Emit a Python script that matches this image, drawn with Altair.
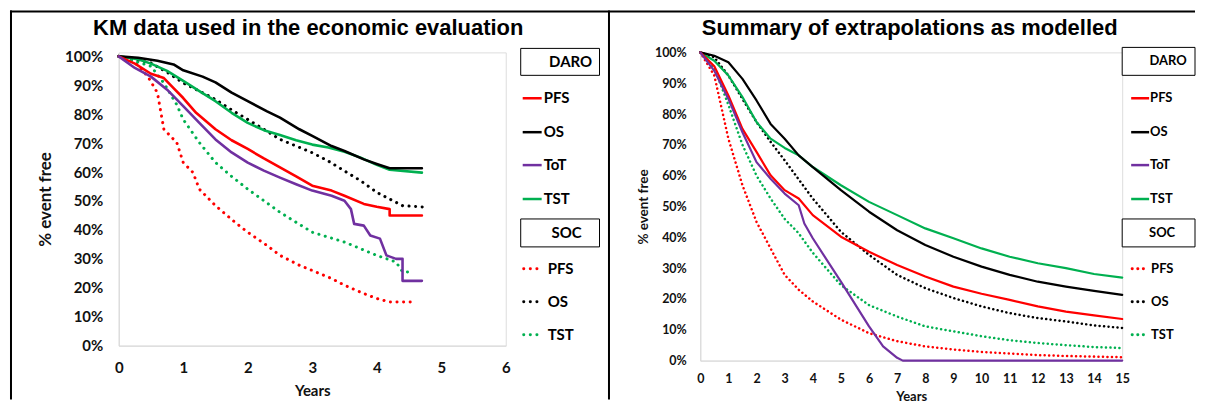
import altair as alt
import pandas as pd

# ---------------- Left panel: Kaplan-Meier data (years, fraction event free) ----------------
KM_DARO_PFS_T = [0, 0.25, 0.5, 0.7, 0.85, 1.0, 1.2, 1.5, 1.75, 2.0, 2.25, 2.5, 2.75, 3.0, 3.3, 3.5, 3.8, 4.0, 4.2, 4.2, 4.7]
KM_DARO_PFS_S = [1.0, 0.975, 0.94, 0.925, 0.89, 0.856, 0.805, 0.748, 0.71, 0.68, 0.647, 0.616, 0.585, 0.553, 0.536, 0.518, 0.49, 0.48, 0.472, 0.45, 0.45]

KM_DARO_OS_T = [0, 0.3, 0.6, 0.85, 1.0, 1.3, 1.5, 1.75, 2.0, 2.3, 2.5, 2.8, 3.0, 3.3, 3.5, 3.8, 4.0, 4.2, 4.7]
KM_DARO_OS_S = [1.0, 0.995, 0.985, 0.972, 0.952, 0.93, 0.91, 0.875, 0.845, 0.81, 0.788, 0.748, 0.725, 0.69, 0.673, 0.644, 0.628, 0.613, 0.613]

KM_DARO_TOT_T = [0, 0.25, 0.5, 0.75, 1.0, 1.25, 1.5, 1.75, 2.0, 2.25, 2.5, 2.75, 3.0, 3.3, 3.5, 3.6, 3.65, 3.8, 3.9, 4.05, 4.15, 4.3, 4.4, 4.4, 4.7]
KM_DARO_TOT_S = [1.0, 0.96, 0.93, 0.885, 0.828, 0.77, 0.713, 0.668, 0.633, 0.605, 0.581, 0.558, 0.536, 0.518, 0.501, 0.472, 0.421, 0.415, 0.381, 0.37, 0.312, 0.3, 0.3, 0.224, 0.224]

KM_DARO_TST_T = [0, 0.3, 0.5, 0.75, 1.0, 1.25, 1.5, 1.75, 2.0, 2.25, 2.5, 2.75, 3.0, 3.25, 3.5, 3.75, 4.0, 4.2, 4.7]
KM_DARO_TST_S = [1.0, 0.99, 0.975, 0.95, 0.915, 0.88, 0.845, 0.805, 0.77, 0.745, 0.728, 0.71, 0.695, 0.685, 0.67, 0.65, 0.625, 0.608, 0.598]

KM_SOC_PFS_T = [0, 0.25, 0.45, 0.6, 0.7, 0.9, 1.0, 1.15, 1.25, 1.5, 1.8, 2.0, 2.3, 2.5, 2.8, 3.0, 3.3, 3.5, 3.8, 4.0, 4.2, 4.55]
KM_SOC_PFS_S = [1.0, 0.98, 0.931, 0.874, 0.748, 0.702, 0.633, 0.599, 0.541, 0.484, 0.427, 0.392, 0.346, 0.312, 0.278, 0.26, 0.232, 0.209, 0.18, 0.163, 0.151, 0.151]

KM_SOC_OS_T = [0, 0.5, 0.75, 1.0, 1.25, 1.5, 1.75, 2.0, 2.25, 2.5, 2.75, 3.0, 3.25, 3.5, 3.75, 4.0, 4.2, 4.4, 4.8]
KM_SOC_OS_S = [1.0, 0.977, 0.945, 0.908, 0.88, 0.851, 0.815, 0.782, 0.748, 0.713, 0.69, 0.667, 0.638, 0.604, 0.57, 0.53, 0.507, 0.484, 0.478]

KM_SOC_TST_T = [0, 0.5, 0.7, 0.9, 1.0, 1.25, 1.5, 1.75, 2.0, 2.5, 3.0, 3.5, 4.0, 4.3, 4.4, 4.55]
KM_SOC_TST_S = [1.0, 0.966, 0.908, 0.833, 0.782, 0.702, 0.633, 0.585, 0.541, 0.461, 0.392, 0.358, 0.312, 0.289, 0.255, 0.255]

# ---------------- Right panel: modelled extrapolations ----------------
EX_T = [0, 0.5, 1, 1.5, 2, 2.5, 3, 3.5, 4, 5, 6, 7, 8, 9, 10, 11, 12, 13, 14, 15]
EX_DARO_PFS = [1.0, 0.955, 0.86, 0.752, 0.677, 0.601, 0.553, 0.526, 0.472, 0.402, 0.353, 0.31, 0.273, 0.24, 0.217, 0.197, 0.176, 0.159, 0.147, 0.135]
EX_DARO_OS = [1.0, 0.989, 0.968, 0.914, 0.844, 0.768, 0.72, 0.666, 0.628, 0.553, 0.483, 0.423, 0.375, 0.337, 0.305, 0.278, 0.256, 0.24, 0.226, 0.213]
EX_DARO_TST = [1.0, 0.973, 0.925, 0.855, 0.774, 0.72, 0.69, 0.666, 0.628, 0.569, 0.515, 0.472, 0.429, 0.397, 0.364, 0.337, 0.316, 0.3, 0.281, 0.269]
EX_SOC_PFS = [1.0, 0.925, 0.72, 0.569, 0.45, 0.364, 0.278, 0.23, 0.192, 0.133, 0.089, 0.063, 0.046, 0.036, 0.028, 0.023, 0.018, 0.015, 0.013, 0.011]
EX_SOC_OS = [1.0, 0.984, 0.925, 0.849, 0.774, 0.71, 0.65, 0.588, 0.526, 0.418, 0.343, 0.278, 0.235, 0.203, 0.176, 0.154, 0.138, 0.127, 0.114, 0.106]
EX_SOC_TST = [1.0, 0.95, 0.83, 0.70, 0.60, 0.526, 0.46, 0.413, 0.35, 0.245, 0.18, 0.143, 0.111, 0.095, 0.079, 0.066, 0.057, 0.05, 0.044, 0.041]
EX_DARO_TOT_T = [0, 0.25, 0.5, 1, 1.5, 2, 2.5, 3, 3.5, 3.7, 4, 5, 6, 6.5, 7, 7.2, 15]
EX_DARO_TOT = [1.0, 0.97, 0.94, 0.849, 0.741, 0.644, 0.59, 0.542, 0.504, 0.445, 0.397, 0.256, 0.111, 0.046, 0.009, 0.0, 0.0]

SERIES = ["DARO PFS", "DARO OS", "DARO ToT", "DARO TST", "SOC PFS", "SOC OS", "SOC TST"]
SERIES_COLORS = ["#FF0000", "#000000", "#7030A0", "#00B050", "#FF0000", "#000000", "#00B050"]
DARO_ITEMS = ["PFS", "OS", "ToT", "TST"]
SOC_ITEMS = ["PFS", "OS", "TST"]
Y_TICKS = [0, 0.1, 0.2, 0.3, 0.4, 0.5, 0.6, 0.7, 0.8, 0.9, 1.0]
KM_X_TICKS = [0, 1, 2, 3, 4, 5, 6]
EX_X_TICKS = list(range(16))

LEFT_TITLE = "KM data used in the economic evaluation"
RIGHT_TITLE = "Summary of extrapolations as modelled"

TITLE_FONT = "Liberation Sans, Arial, sans-serif"
LBL_FONT = "Lato"
COLOR_OF = dict(zip(SERIES, SERIES_COLORS))


def frame(parts):
    rows = []
    for name, ts, ss in parts:
        for i, (t, s) in enumerate(zip(ts, ss)):
            rows.append({"series": name, "arm": name.split()[0], "t": t, "s": s, "i": i})
    return pd.DataFrame(rows)


km_df = frame([
    ("SOC PFS", KM_SOC_PFS_T, KM_SOC_PFS_S),
    ("SOC OS", KM_SOC_OS_T, KM_SOC_OS_S),
    ("SOC TST", KM_SOC_TST_T, KM_SOC_TST_S),
    ("DARO TST", KM_DARO_TST_T, KM_DARO_TST_S),
    ("DARO OS", KM_DARO_OS_T, KM_DARO_OS_S),
    ("DARO PFS", KM_DARO_PFS_T, KM_DARO_PFS_S),
    ("DARO ToT", KM_DARO_TOT_T, KM_DARO_TOT_S),
])
ex_df = frame([
    ("SOC PFS", EX_T, EX_SOC_PFS),
    ("SOC OS", EX_T, EX_SOC_OS),
    ("SOC TST", EX_T, EX_SOC_TST),
    ("DARO TST", EX_T, EX_DARO_TST),
    ("DARO OS", EX_T, EX_DARO_OS),
    ("DARO PFS", EX_T, EX_DARO_PFS),
    ("DARO ToT", EX_DARO_TOT_T, EX_DARO_TOT),
])

ONE = pd.DataFrame({"k": [0]})
color_scale = alt.Scale(domain=SERIES, range=SERIES_COLORS)


def vrule(x, y1, y2, w=2.0, color="black"):
    return alt.Chart(ONE).mark_rule(color=color, strokeWidth=w).encode(
        x=alt.value(x), y=alt.value(y1), y2=alt.value(y2))


def hrule(x1, x2, y, w=2.0, color="black", dash=None, cap="butt"):
    kw = dict(color=color, strokeWidth=w, strokeCap=cap)
    if dash is not None:
        kw["strokeDash"] = dash
    return alt.Chart(ONE).mark_rule(**kw).encode(
        x=alt.value(x1), x2=alt.value(x2), y=alt.value(y))


def box(x1, x2, y1, y2):
    return alt.Chart(ONE).mark_rect(fill="white", stroke="#000000", strokeWidth=1).encode(
        x=alt.value(x1), x2=alt.value(x2), y=alt.value(y1), y2=alt.value(y2))


def label(x, y, text, size, align="left", font=LBL_FONT, baseline="middle"):
    return alt.Chart(ONE).mark_text(align=align, baseline=baseline, fontSize=size, font=font,
                                    fontWeight="bold", color="black").encode(
        x=alt.value(x), y=alt.value(y), text=alt.value(text))


def curves(df, xdom, ydom, xticks, lab_size, xtitle_size, ytitle_size, xlp, xtp, ylp, ytp,
           solid_w, dot_w, dot_dash):
    x_axis = alt.Axis(values=xticks, title="Years", labelFont=LBL_FONT, labelFontSize=lab_size,
                      labelFontWeight="bold", labelColor="#111111", titleFont=LBL_FONT,
                      titleFontSize=xtitle_size, titleFontWeight="bold", titleColor="#111111",
                      ticks=False, grid=False, domainColor="#d9d9d9", domainWidth=1,
                      labelPadding=xlp, titlePadding=xtp, labelFlush=False, labelOverlap=False)
    y_axis = alt.Axis(values=Y_TICKS, format=".0%", title="% event free", labelFont=LBL_FONT,
                      labelFontSize=lab_size, labelFontWeight="bold", labelColor="#111111",
                      titleFont=LBL_FONT, titleFontSize=ytitle_size, titleFontWeight="bold",
                      titleColor="#111111", ticks=False, grid=False, domainColor="#d9d9d9",
                      domainWidth=1, labelPadding=ylp, titlePadding=ytp, labelOverlap=False)
    enc = dict(
        x=alt.X("t:Q", scale=alt.Scale(domain=xdom, nice=False, zero=False), axis=x_axis),
        y=alt.Y("s:Q", scale=alt.Scale(domain=ydom, nice=False), axis=y_axis),
        color=alt.Color("series:N", scale=color_scale, legend=None),
        detail="series:N",
        order=alt.Order("i:Q"),
    )
    dotted = alt.Chart(df).transform_filter(alt.datum.arm == "SOC").mark_line(
        strokeWidth=dot_w, strokeDash=dot_dash, strokeCap="round", strokeJoin="round").encode(**enc)
    solid = alt.Chart(df).transform_filter(alt.datum.arm == "DARO").mark_line(
        strokeWidth=solid_w, strokeCap="round", strokeJoin="round").encode(**enc)
    return [dotted, solid]


def legend(bx1, bx2, daro_box, daro_txt, rows_daro, soc_box, soc_txt, rows_soc,
           lx1, lx2, tx_solid, dx2, tx_dot, size, dot_dash):
    layers = [box(bx1, bx2, daro_box[0], daro_box[1]),
              label(daro_txt[0], daro_txt[1], "DARO", size, align="center"),
              box(bx1, bx2, soc_box[0], soc_box[1]),
              label(soc_txt[0], soc_txt[1], "SOC", size, align="center")]
    for name, yy in zip(DARO_ITEMS, rows_daro):
        layers.append(hrule(lx1, lx2, yy, w=2.5, color=COLOR_OF["DARO " + name]))
        layers.append(label(tx_solid, yy, name, size))
    for name, yy in zip(SOC_ITEMS, rows_soc):
        layers.append(hrule(lx1 + 1, dx2, yy, w=3, color=COLOR_OF["SOC " + name], dash=dot_dash, cap="round"))
        layers.append(label(tx_dot, yy, name, size))
    return layers


# ---------------- left panel (origin = plot top-left) ----------------
LW, LH = 388, 294
left_layers = curves(km_df, [0, 6], [0, LH / 290.0], KM_X_TICKS, 15, 15, 17, 15, 8, 16, 10,
                     2.6, 3.0, [0.1, 6.5])
left_layers += [
    hrule(-109, 1079, -41, w=2),          # top frame
    vrule(-108, -42, 348, w=2),           # left frame
    vrule(491.5, -42, 348, w=2),          # middle divider
    label(190, -17, LEFT_TITLE, 22, align="center", font=TITLE_FONT, baseline="alphabetic"),
]
left_layers += legend(403, 482, (-4, 23), (453, 10), [46, 80, 113, 147], (167, 195), (449, 181),
                      [217, 250, 283], 405, 424, 426, 424, 430, 15, [0.1, 6.5])
left = alt.layer(*left_layers).properties(width=LW, height=LH)

# ---------------- right panel ----------------
RW, RH = 423, 309
right_layers = curves(ex_df, [0, 15], [0, 1], EX_X_TICKS, 12.5, 13, 13.5, 12, 5, 14, 4,
                      2.2, 2.5, [0.1, 4.4])
right_layers += [
    label(210, -17, RIGHT_TITLE, 22, align="center", font=TITLE_FONT, baseline="alphabetic"),
]
right_layers += legend(423, 496, (-5, 23), (469, 9), [46, 80, 113, 147], (167, 195), (463, 181),
                       [217, 250, 283], 432, 450, 451, 448, 452, 13, [0.1, 5.5])
right = alt.layer(*right_layers).properties(width=RW, height=RH)

chart = alt.hconcat(left, right, spacing=195, bounds="flush", padding=0).configure_view(
    stroke=None).configure(background="white")

chart.save("out.html", embed_options={"renderer": "svg", "actions": False})
